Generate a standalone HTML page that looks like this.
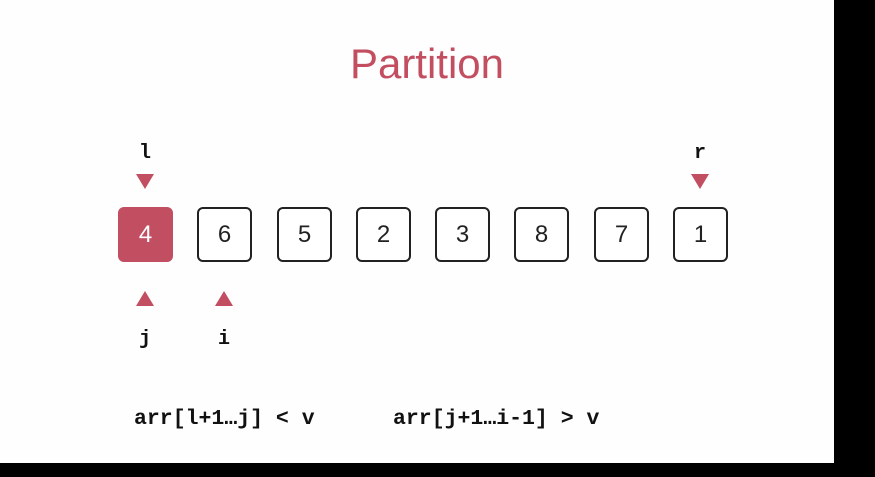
<!DOCTYPE html>
<html><head><style>
body{margin:0;width:875px;height:477px;background:#000;position:relative;overflow:hidden;font-family:"Liberation Sans",sans-serif}
.slide{position:absolute;left:0;top:0;width:834px;height:463px;background:#fefefe}
.t{position:absolute;left:0;width:854px;top:40px;text-align:center;font-size:42px;color:#c24e60}
.b{position:absolute;top:207px;width:51px;height:51px;border:2px solid #222;border-radius:6px;box-sizing:content-box;text-align:center;line-height:51px;font-size:24px;color:#222;background:#fff}
.b.red{background:#c24f61;border-color:#c24f61;color:#fff}
.m{position:absolute;font-family:"Liberation Mono",monospace;font-weight:bold;color:#111;font-size:20px}
.tri{position:absolute;width:0;height:0;border-left:9px solid transparent;border-right:9px solid transparent}
.dn{border-top:15px solid #c24f61}
.up{border-bottom:15px solid #c24f61}
</style></head><body>
<div class="slide">
<div class="t">Partition</div>
<div class="m" style="left:139px;top:142px">l</div>
<div class="m" style="left:694px;top:142px">r</div>
<div class="tri dn" style="left:136px;top:174px"></div>
<div class="tri dn" style="left:691px;top:174px"></div>
<div class="b red" style="left:118px">4</div>
<div class="b" style="left:197px">6</div>
<div class="b" style="left:277px">5</div>
<div class="b" style="left:356px">2</div>
<div class="b" style="left:435px">3</div>
<div class="b" style="left:514px">8</div>
<div class="b" style="left:594px">7</div>
<div class="b" style="left:673px">1</div>
<div class="tri up" style="left:136px;top:291px"></div>
<div class="tri up" style="left:215px;top:291px"></div>
<div class="m" style="left:139px;top:328px">j</div>
<div class="m" style="left:218px;top:328px">i</div>
<div class="m" style="left:134px;top:407px;font-size:21.5px">arr[l+1…j] &lt; v</div>
<div class="m" style="left:393px;top:407px;font-size:21.5px">arr[j+1…i-1] &gt; v</div>
</div>
</body></html>
